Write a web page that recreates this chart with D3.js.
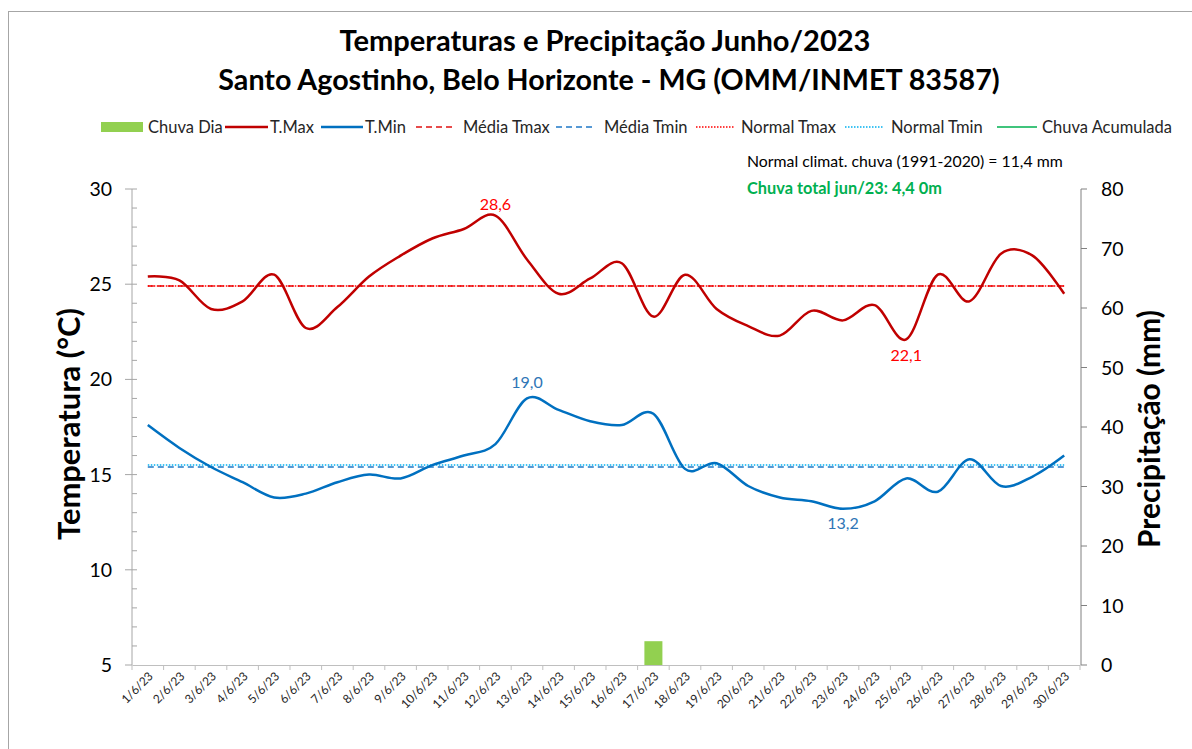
<!DOCTYPE html>
<html>
<head>
<meta charset="utf-8">
<script src="https://cdn.jsdelivr.net/npm/d3@7"></script>
<style>
  body { margin: 0; background: #fff; }
  svg { font-family: Lato, 'Open Sans', sans-serif; }
</style>
</head>
<body>
<svg id="chart" width="1192" height="749"></svg>
<script>
const days = [
  '1/6/23', '2/6/23', '3/6/23', '4/6/23', '5/6/23', '6/6/23', '7/6/23', '8/6/23', '9/6/23', '10/6/23',
  '11/6/23', '12/6/23', '13/6/23', '14/6/23', '15/6/23', '16/6/23', '17/6/23', '18/6/23', '19/6/23', '20/6/23',
  '21/6/23', '22/6/23', '23/6/23', '24/6/23', '25/6/23', '26/6/23', '27/6/23', '28/6/23', '29/6/23', '30/6/23'
]
const tMax = [
  25.4, 25.2, 23.7, 24.1, 25.5, 22.7, 23.8, 25.4, 26.5, 27.4,
  27.9, 28.6, 26.3, 24.5, 25.3, 26.1, 23.3, 25.5, 23.7, 22.8,
  22.3, 23.6, 23.1, 23.9, 22.1, 25.5, 24.1, 26.6, 26.5, 24.5
]
const tMin = [
  17.6, 16.4, 15.4, 14.6, 13.8, 14.0, 14.6, 15.0, 14.8, 15.5,
  16.0, 16.6, 19.0, 18.4, 17.8, 17.6, 18.2, 15.3, 15.6, 14.4,
  13.8, 13.6, 13.2, 13.6, 14.8, 14.1, 15.8, 14.4, 14.9, 16.0
]
const chuvaDia = [
  0, 0, 0, 0, 0, 0, 0, 0, 0, 0,
  0, 0, 0, 0, 0, 0, 4.0, 0, 0, 0,
  0, 0, 0, 0, 0, 0, 0, 0, 0, 0
]
const mediaTmax = 24.9
const mediaTmin = 15.4
const normalTmax = 24.9
const normalTmin = 15.5
const normalChuva = '11,4'
const chuvaTotal = '4,4 0'
const tempTicks = [5, 10, 15, 20, 25, 30]
const chuvaTicks = [0, 10, 20, 30, 40, 50, 60, 70, 80]

const svg = d3.select('#chart')
const plot = { left: 132, right: 1080, top: 189, bottom: 665 }

// frame
svg.append('rect')
  .attr('x', 8.5).attr('y', 11.5)
  .attr('width', 1300).attr('height', 900)
  .attr('fill', '#fff')
  .attr('stroke', '#a6a6a6')

const x = d3.scaleBand()
  .domain(days)
  .range([plot.left, plot.right])
  .paddingInner(0.43)
  .paddingOuter(0.215)
const xc = (d) => x(d) + x.bandwidth() / 2
const step = x.step()

const yT = d3.scaleLinear().domain([5, 30]).range([plot.bottom, plot.top])
const yP = d3.scaleLinear().domain([0, 80]).range([plot.bottom, plot.top])

const comma = (v) => d3.format('.1f')(v).replace('.', ',')

// fit a text to a target width by changing its font size
const fit = (sel, width) => {
  const w = sel.node().getComputedTextLength()
  const size = parseFloat(sel.attr('font-size'))
  sel.attr('font-size', size * width / w)
  return sel
}

// titles
fit(svg.append('text')
  .attr('x', 605).attr('y', 51)
  .attr('text-anchor', 'middle')
  .attr('font-weight', 'bold')
  .attr('font-size', 26)
  .text('Temperaturas e Precipitação Junho/2023'), 531)

fit(svg.append('text')
  .attr('x', 609).attr('y', 90)
  .attr('text-anchor', 'middle')
  .attr('font-weight', 'bold')
  .attr('font-size', 26)
  .text('Santo Agostinho, Belo Horizonte - MG (OMM/INMET 83587)'), 782)

// legend
const legendItems = [
  { label: 'Chuva Dia', kind: 'bar', color: '#92d050', x0: 101, x1: 143, tx: 148 },
  { label: 'T.Max', kind: 'line', color: '#c00000', dash: null, width: 2.5, x0: 225, x1: 268, tx: 270 },
  { label: 'T.Min', kind: 'line', color: '#0070c0', dash: null, width: 2.5, x0: 321, x1: 363, tx: 365 },
  { label: 'Média Tmax', kind: 'line', color: '#e01010', dash: '6,4', width: 1.5, x0: 416, x1: 453, tx: 463 },
  { label: 'Média Tmin', kind: 'line', color: '#1f78c8', dash: '6,4', width: 1.5, x0: 556, x1: 596, tx: 604 },
  { label: 'Normal Tmax', kind: 'line', color: '#ff0000', dash: '1.5,1.5', width: 1.5, x0: 696, x1: 734, tx: 741 },
  { label: 'Normal Tmin', kind: 'line', color: '#00b0f0', dash: '1.5,1.5', width: 1.5, x0: 845, x1: 884, tx: 891 },
  { label: 'Chuva Acumulada', kind: 'line', color: '#00b050', dash: null, width: 1.5, x0: 997, x1: 1037, tx: 1042 }
]
const ly = 127
legendItems.forEach((it) => {
  if (it.kind === 'bar') {
    svg.append('rect')
      .attr('x', it.x0).attr('y', ly - 5)
      .attr('width', it.x1 - it.x0).attr('height', 10)
      .attr('fill', it.color)
  } else {
    svg.append('line')
      .attr('x1', it.x0).attr('x2', it.x1)
      .attr('y1', ly).attr('y2', ly)
      .attr('stroke', it.color)
      .attr('stroke-width', it.width)
      .attr('stroke-dasharray', it.dash)
  }
  svg.append('text')
    .attr('x', it.tx).attr('y', ly + 6)
    .attr('font-size', 16.5)
    .attr('fill', '#262626')
    .text(it.label)
})

// notes
fit(svg.append('text')
  .attr('x', 747).attr('y', 167)
  .attr('font-size', 14)
  .attr('fill', '#000')
  .text(`Normal climat. chuva (1991-2020) = ${normalChuva} mm`), 316)

fit(svg.append('text')
  .attr('x', 747).attr('y', 194)
  .attr('font-size', 14)
  .attr('font-weight', 'bold')
  .attr('fill', '#00b050')
  .text(`Chuva total jun/23: ${chuvaTotal}m`), 195)

// left axis
const leftAxis = svg.append('g')
leftAxis.append('line')
  .attr('x1', plot.left).attr('x2', plot.left)
  .attr('y1', plot.top).attr('y2', plot.bottom)
  .attr('stroke', '#a6a6a6')
leftAxis.selectAll('.minor')
  .data(d3.range(6, 31))
  .enter()
  .append('line')
  .attr('x1', plot.left).attr('x2', plot.left + 5)
  .attr('y1', (d) => yT(d)).attr('y2', (d) => yT(d))
  .attr('stroke', '#a6a6a6')
leftAxis.selectAll('.major')
  .data(tempTicks)
  .enter()
  .append('line')
  .attr('x1', plot.left - 7).attr('x2', plot.left)
  .attr('y1', (d) => yT(d)).attr('y2', (d) => yT(d))
  .attr('stroke', '#a6a6a6')
leftAxis.selectAll('.lbl')
  .data(tempTicks)
  .enter()
  .append('text')
  .attr('x', 112).attr('y', (d) => yT(d) + 7)
  .attr('text-anchor', 'end')
  .attr('font-size', 19.5)
  .attr('fill', '#000')
  .text((d) => d)

// right axis
const rightAxis = svg.append('g')
rightAxis.append('line')
  .attr('x1', plot.right + 1).attr('x2', plot.right + 1)
  .attr('y1', plot.top).attr('y2', plot.bottom)
  .attr('stroke', '#808080')
rightAxis.selectAll('.major')
  .data(chuvaTicks)
  .enter()
  .append('line')
  .attr('x1', plot.right + 1).attr('x2', plot.right + 7)
  .attr('y1', (d) => yP(d)).attr('y2', (d) => yP(d))
  .attr('stroke', '#808080')
rightAxis.selectAll('.lbl')
  .data(chuvaTicks)
  .enter()
  .append('text')
  .attr('x', 1101).attr('y', (d) => yP(d) + 7)
  .attr('font-size', 19.5)
  .attr('fill', '#000')
  .text((d) => d)

// axis titles
fit(svg.append('text')
  .attr('transform', 'translate(80,424) rotate(-90)')
  .attr('text-anchor', 'middle')
  .attr('font-weight', 'bold')
  .attr('font-size', 26)
  .text('Temperatura (°C)'), 232)

fit(svg.append('text')
  .attr('transform', 'translate(1160,429) rotate(-90)')
  .attr('text-anchor', 'middle')
  .attr('font-weight', 'bold')
  .attr('font-size', 26)
  .text('Precipitação (mm)'), 238)

// bars
svg.append('g')
  .selectAll('rect')
  .data(days.map((d, i) => ({ day: d, v: chuvaDia[i] })).filter((d) => d.v > 0))
  .enter()
  .append('rect')
  .attr('x', (d) => x(d.day))
  .attr('y', (d) => yP(d.v))
  .attr('width', x.bandwidth())
  .attr('height', (d) => yP(0) - yP(d.v))
  .attr('fill', '#92d050')

// x axis
const xAxis = svg.append('g')
  .attr('transform', `translate(0,${plot.bottom})`)
  .call(d3.axisBottom(x).tickSize(5).tickSizeOuter(0))
xAxis.select('.domain').attr('stroke', '#bfbfbf')
xAxis.selectAll('.tick line')
  .attr('stroke', '#bfbfbf')
  .attr('x1', -step / 2).attr('x2', -step / 2)
xAxis.append('line')
  .attr('x1', plot.right).attr('x2', plot.right)
  .attr('y1', 0).attr('y2', 5)
  .attr('stroke', '#bfbfbf')
xAxis.selectAll('.tick text')
  .attr('font-family', 'Lato, sans-serif')
  .attr('font-size', 12)
  .attr('fill', '#262626')
  .attr('text-anchor', 'end')
  .attr('y', 0).attr('dy', 0)
  .attr('transform', 'translate(6,12) rotate(-45)')

// reference lines
const refLines = [
  { v: mediaTmax, color: '#e01010', dash: '6,4' },
  { v: normalTmax, color: '#ff0000', dash: '1.5,1.5' },
  { v: mediaTmin, color: '#1f78c8', dash: '6,4' },
  { v: normalTmin, color: '#00b0f0', dash: '1.5,1.5' }
]
svg.append('g')
  .selectAll('line')
  .data(refLines)
  .enter()
  .append('line')
  .attr('x1', xc(days[0])).attr('x2', xc(days[days.length - 1]))
  .attr('y1', (d) => yT(d.v)).attr('y2', (d) => yT(d.v))
  .attr('stroke', (d) => d.color)
  .attr('stroke-width', 1.5)
  .attr('stroke-dasharray', (d) => d.dash)

// temperature curves
const line = d3.line()
  .x((d) => xc(d.day))
  .y((d) => yT(d.v))
  .curve(d3.curveCardinal.tension(0))

const series = [
  { values: tMax, color: '#c00000' },
  { values: tMin, color: '#0070c0' }
]
series.forEach((s) => {
  svg.append('path')
    .datum(days.map((d, i) => ({ day: d, v: s.values[i] })))
    .attr('d', line)
    .attr('fill', 'none')
    .attr('stroke', s.color)
    .attr('stroke-width', 2.5)
})

// extreme labels
const extremes = [
  { values: tMax, i: d3.maxIndex(tMax), dy: -6, color: '#ff0000' },
  { values: tMax, i: d3.minIndex(tMax), dy: 22, color: '#ff0000' },
  { values: tMin, i: d3.maxIndex(tMin), dy: -10, color: '#2e75b6' },
  { values: tMin, i: d3.minIndex(tMin), dy: 20, color: '#2e75b6' }
]
svg.append('g')
  .selectAll('text')
  .data(extremes)
  .enter()
  .append('text')
  .attr('x', (d) => xc(days[d.i]))
  .attr('y', (d) => yT(d.values[d.i]) + d.dy)
  .attr('text-anchor', 'middle')
  .attr('font-size', 16)
  .attr('fill', (d) => d.color)
  .text((d) => comma(d.values[d.i]))
</script>
</body>
</html>
